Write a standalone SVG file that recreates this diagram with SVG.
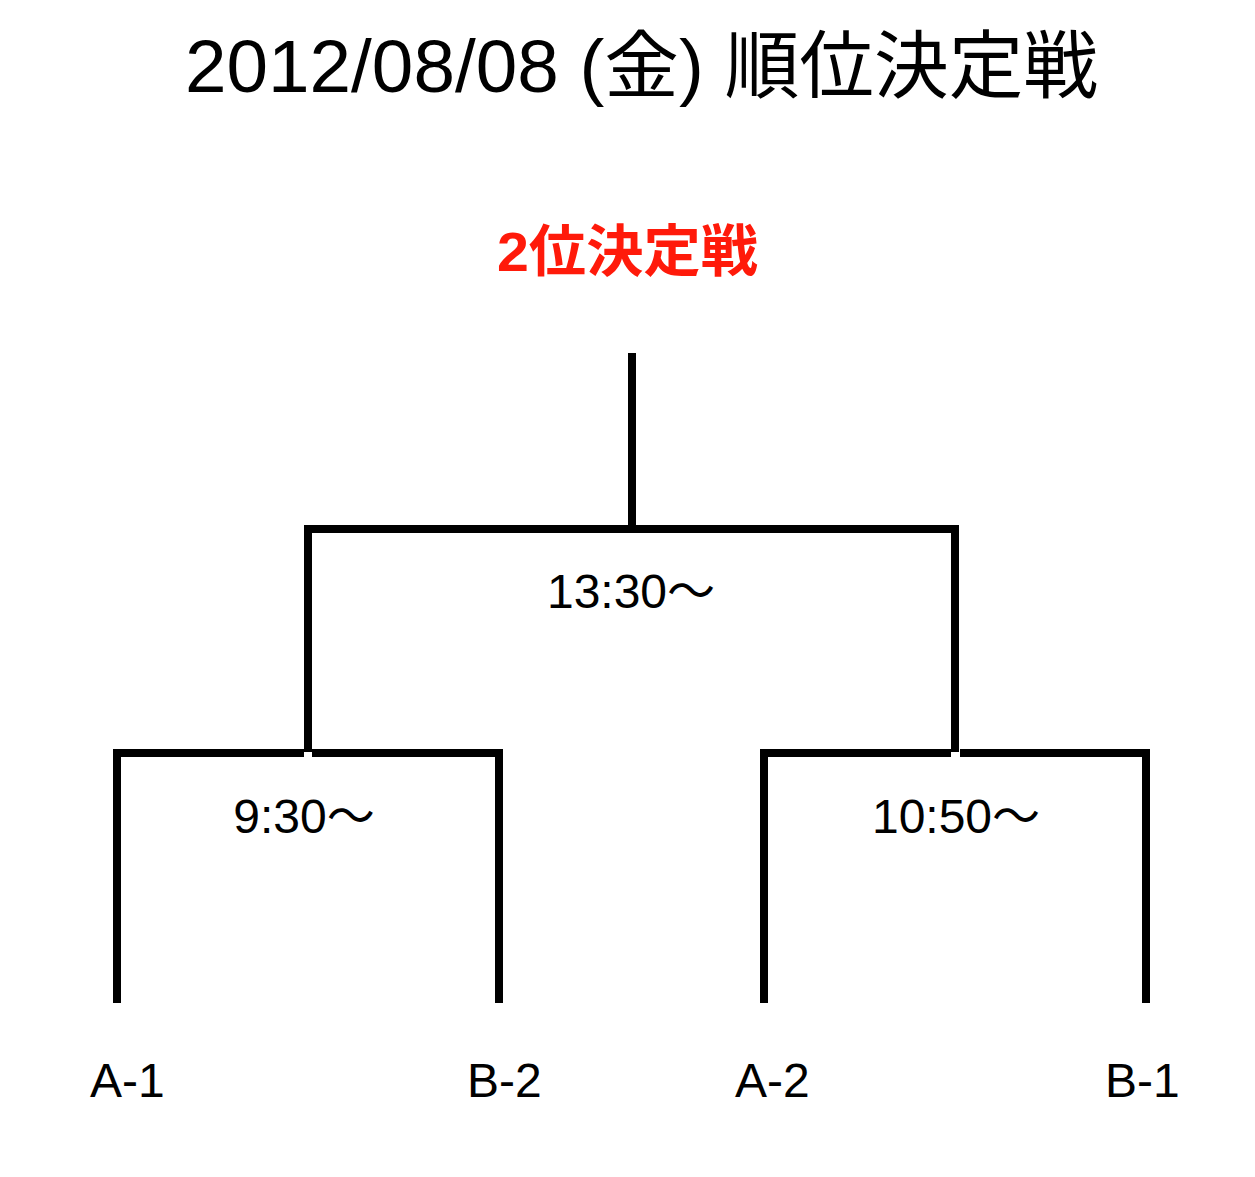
<svg xmlns="http://www.w3.org/2000/svg" width="1255" height="1177" viewBox="0 0 1255 1177">
<style>
text{font-family:"Liberation Sans","Noto Sans CJK JP",sans-serif;fill:#000}
.t{font-size:48px}
.ln{stroke:#000;stroke-width:8;fill:none;stroke-linecap:butt}
</style>
<rect width="1255" height="1177" fill="#fff"/>
<g id="title"><text x="185" y="92" font-size="74" textLength="913" lengthAdjust="spacingAndGlyphs">2012/08/08 (金) 順位決定戦</text></g>
<g id="final"><text x="497" y="271" font-size="56" font-weight="bold" textLength="261" lengthAdjust="spacingAndGlyphs" style="fill:#ff1a0a">2位決定戦</text></g>
<g id="connectors">
<line class="ln" x1="632" y1="353" x2="632" y2="533"/>
<polyline class="ln" points="308,752 308,529 955,529 955,752"/>
<polyline class="ln" points="117,1003 117,753 304,753"/>
<polyline class="ln" points="312,753 499,753 499,1003"/>
<polyline class="ln" points="764,1003 764,753 951,753"/>
<polyline class="ln" points="960,753 1146,753 1146,1003"/>
</g>
<g id="m-final"><text class="t" x="631" y="608" text-anchor="middle">13:30〜</text></g>
<g id="m-left"><text class="t" x="304" y="833" text-anchor="middle">9:30〜</text></g>
<g id="m-right"><text class="t" x="956" y="833" text-anchor="middle">10:50〜</text></g>
<g id="a1"><text class="t" x="90" y="1097">A-1</text></g>
<g id="b2"><text class="t" x="467" y="1097">B-2</text></g>
<g id="a2"><text class="t" x="735" y="1097">A-2</text></g>
<g id="b1"><text class="t" x="1105" y="1097">B-1</text></g>
</svg>
